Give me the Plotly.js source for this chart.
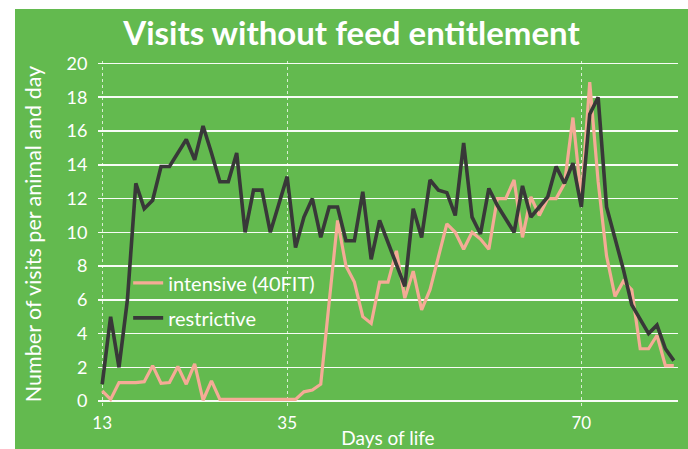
<!DOCTYPE html>
<html>
<head>
<meta charset="utf-8">
<script src="https://cdn.plot.ly/plotly-3.0.1.min.js"></script>
<style>
  html, body { margin: 0; padding: 0; background: #ffffff; }
  #chart { position: absolute; left: 15px; top: 9px; width: 673px; height: 440px; }
</style>
</head>
<body>
<div id="chart"></div>
<script>
  // days of life, one point per day
  const days = [13, 14, 15, 16, 17, 18, 19, 20, 21, 22, 23, 24, 25, 26, 27, 28, 29, 30, 31, 32,
    33, 34, 35, 36, 37, 38, 39, 40, 41, 42, 43, 44, 45, 46, 47, 48, 49, 50, 51, 52,
    53, 54, 55, 56, 57, 58, 59, 60, 61, 62, 63, 64, 65, 66, 67, 68, 69, 70, 71, 72,
    73, 74, 75, 76, 77, 78, 79, 80, 81];

  const intensive = [0.6, 0.1, 1.1, 1.1, 1.1, 1.15, 2.1, 1.05, 1.1, 2.05, 1.0, 2.2, 0.05, 1.2, 0.1, 0.1,
    0.1, 0.1, 0.1, 0.1, 0.1, 0.1, 0.1, 0.1, 0.55, 0.65, 1.0, 6.0, 10.7, 8.0, 7.05, 5.0,
    4.6, 7.05, 7.05, 8.9, 6.1, 7.7, 5.4, 6.6, 8.6, 10.5, 10.0, 9.0, 10.0, 9.6, 9.0, 12.0,
    12.0, 13.1, 9.7, 12.1, 11.0, 12.0, 12.0, 12.9, 16.8, 12.0, 18.9, 13.0, 8.6, 6.2, 7.1, 6.6,
    3.1, 3.1, 3.9, 2.1, 2.1];

  const restrictive = [1.0, 5.0, 2.0, 6.0, 12.9, 11.4, 11.9, 13.9, 13.9, 14.7, 15.5, 14.3, 16.3, 14.7, 13.0, 13.0,
    14.7, 10.0, 12.5, 12.5, 10.0, 11.65, 13.3, 9.1, 10.9, 12.0, 9.7, 11.5, 11.5, 9.5, 9.5, 12.4,
    8.4, 10.7, 9.4, 8.0, 6.8, 11.4, 9.7, 13.1, 12.5, 12.35, 11.0, 15.3, 10.9, 9.9, 12.6, 11.6,
    10.8, 10.0, 12.75, 10.9, 11.5, 12.1, 13.9, 12.9, 14.1, 11.5, 17.0, 18.0, 11.5, 9.7, 7.8, 5.7,
    4.85, 4.0, 4.5, 3.1, 2.4];

  const xTicks = [13, 35, 70];
  const yTicks = [0, 2, 4, 6, 8, 10, 12, 14, 16, 18, 20];

  const green = "#63ba4f";
  const fontFamily = "Lato, 'Open Sans', sans-serif";

  const traces = [
    {
      type: "scatter",
      mode: "lines",
      x: days,
      y: intensive,
      name: "intensive (40FIT)",
      legendgroup: "a",
      line: { color: "#f5ab96", width: 3.2 }
    },
    {
      type: "scatter",
      mode: "lines",
      x: days,
      y: restrictive,
      name: "restrictive",
      legendgroup: "b",
      line: { color: "#383838", width: 3.6 }
    }
  ];

  const layout = {
    width: 673,
    height: 440,
    paper_bgcolor: green,
    plot_bgcolor: green,
    font: { family: fontFamily, color: "#ffffff", size: 17 },
    margin: { l: 83, r: 10, t: 52, b: 42 },
    title: {
      text: "<b>Visits without feed entitlement</b>",
      font: { family: fontFamily, size: 33, color: "#ffffff" },
      x: 0.5,
      xanchor: "center",
      xref: "container",
      y: 0.945,
      yanchor: "middle",
      yref: "container"
    },
    showlegend: true,
    legend: {
      x: 0.052,
      y: 0.415,
      xanchor: "left",
      yanchor: "top",
      bgcolor: "rgba(0,0,0,0)",
      font: { family: fontFamily, size: 20, color: "#ffffff" },
      traceorder: "grouped",
      tracegroupgap: 6
    },
    xaxis: {
      range: [12.5, 81.5],
      tickmode: "array",
      tickvals: xTicks,
      ticktext: xTicks.map(String),
      showgrid: true,
      gridcolor: "rgba(255,255,255,0.75)",
      gridwidth: 1,
      griddash: "dot",
      zeroline: false,
      showline: false,
      ticks: "outside",
      ticklen: 1,
      tickcolor: "rgba(0,0,0,0)",
      tickfont: { size: 17, color: "#ffffff" },
      title: { text: "Days of life", font: { size: 19, color: "#ffffff" }, standoff: 0 },
      automargin: false
    },
    yaxis: {
      range: [-0.35, 20.15],
      tickmode: "array",
      tickvals: yTicks,
      showgrid: true,
      gridcolor: "rgba(255,255,255,0.95)",
      gridwidth: 1.6,
      zeroline: false,
      showline: false,
      ticks: "outside",
      ticklen: 6,
      tickcolor: "rgba(0,0,0,0)",
      tickfont: { size: 18, color: "#ffffff" },
      title: { text: "Number of visits per animal and day", font: { size: 21.5, color: "#ffffff" }, standoff: 18 },
      automargin: true
    }
  };

  Plotly.newPlot("chart", traces, layout, { displayModeBar: false, staticPlot: true });
</script>
</body>
</html>
